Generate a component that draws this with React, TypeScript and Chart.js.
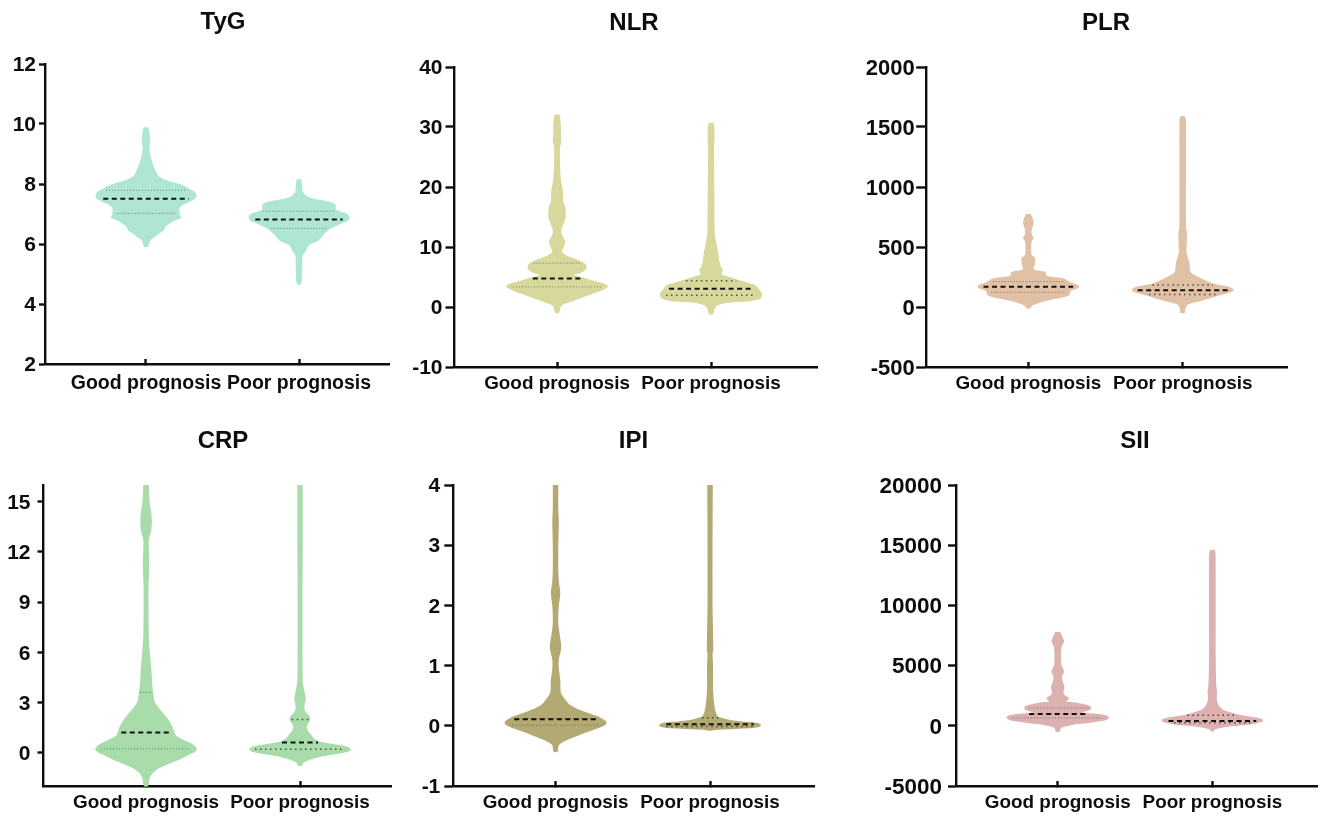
import { useEffect, useRef } from "react";
import { Chart, registerables } from "chart.js";

Chart.register(...registerables);

const groups = ["Good prognosis", "Poor prognosis"];

// violin outlines: value, and full width of the violin relative to the widest one (100)
const tygGoodValues = [9.89, 9.75, 9.4, 9.2, 8.9, 8.58, 8.25, 8.08, 8.0, 7.9, 7.8, 7.72, 7.63, 7.55, 7.47, 7.36, 7.28, 7.2, 7.02, 6.88, 6.82, 6.74, 6.58, 6.45, 6.38, 6.24, 6.13, 5.93];
const tygGoodWidths = [3, 5, 7, 5, 8, 14, 24, 45, 62, 78, 88, 97, 100, 99, 92, 78, 70, 66, 66, 69, 60, 50, 38, 34, 26, 16, 7, 3];
const tygPoorValues = [8.16, 8.02, 7.74, 7.58, 7.48, 7.38, 7.3, 7.13, 7.05, 6.98, 6.88, 6.78, 6.7, 6.52, 6.36, 6.13, 5.97, 5.8, 5.63, 5.24, 4.74, 4.67];
const tygPoorWidths = [3, 4.5, 6, 14, 30, 62, 72, 73, 86, 96, 100, 96, 84, 62, 50, 38, 18, 13, 6, 5, 4, 2];

const nlrGoodValues = [32.1, 31.4, 29.7, 28.9, 27.5, 26.7, 23.4, 21.4, 19.8, 18.7, 17.8, 16.7, 15, 14.2, 12.8, 12, 10.9, 10.1, 9.2, 8.4, 7.85, 7.3, 6.9, 6.3, 5.8, 5.35, 4.8, 4.25, 3.9, 3.5, 3.1, 2.7, 2, 1.2, 0.6, 0.1, -0.9];
const nlrGoodWidths = [3, 5, 6.5, 6, 7, 4.5, 4.5, 6, 9, 11, 10, 15, 16, 13, 7, 8, 15, 12, 8, 20, 38, 52, 57, 56, 46, 30, 52, 72, 90, 100, 95, 84, 60, 35, 14, 6, 3];
const nlrPoorValues = [30.7, 30, 27.8, 27.2, 15.6, 12.3, 10.6, 9, 7.6, 6.7, 6.2, 5.35, 4.8, 4.25, 3.7, 3.4, 2.8, 2.3, 1.8, 1.4, 1.1, 0.8, 0.36, -0.2, -1.1];
const nlrPoorWidths = [3, 5, 5.5, 4.5, 5.5, 6, 9, 13, 15, 18, 22, 20, 40, 60, 82, 90, 95, 100, 100, 96, 78, 30, 12, 6, 3];

const plrGoodValues = [775, 739, 697, 642, 600, 578, 545, 434, 406, 365, 323, 304, 287, 254, 232, 198, 182, 170, 155, 143, 101, 74, 46, 18, -5];
const plrGoodWidths = [3, 7, 9, 5, 5.5, 9, 5, 5, 12, 12, 9, 12, 33, 35, 70, 85, 96, 100, 95, 84, 80, 55, 25, 7, 3];
const plrPoorValues = [1590, 1556, 670, 614, 559, 462, 406, 365, 295, 268, 226, 190, 165, 150, 138, 122, 101, 60, 26, -10, -43];
const plrPoorWidths = [3, 5, 5, 7, 7, 6, 9, 12, 14, 20, 40, 60, 90, 98, 100, 90, 72, 40, 10, 4, 3];

const crpGoodValues = [16, 14.9, 14.3, 13.8, 13.3, 12.7, 11.2, 9.9, 8.5, 7, 6, 5, 4, 3.55, 3, 2.5, 2, 1.5, 1.2, 0.95, 0.7, 0.5, 0.35, 0.22, 0.08, -0.05, -0.3, -0.6, -0.9, -1.2, -1.5, -1.98];
const crpGoodWidths = [4, 6, 9, 10, 9, 4, 5, 3.5, 3.5, 4, 6, 9, 11, 13, 16, 28, 42, 52, 55, 60, 76, 90, 97, 100, 97, 88, 72, 48, 25, 12, 6, 3];
const crpPoorValues = [16, 13, 10, 6, 4.2, 3.7, 3.2, 2.7, 2.4, 2.1, 1.9, 1.6, 1.3, 1, 0.8, 0.6, 0.45, 0.32, 0.2, 0.08, -0.05, -0.2, -0.4, -0.6, -0.75];
const crpPoorWidths = [4, 4, 3.5, 3.5, 4, 7, 10, 7, 10, 19, 18, 12, 14, 22, 27, 40, 70, 92, 100, 94, 72, 42, 18, 5, 3];

const ipiGoodValues = [4, 3.6, 3.4, 3, 2.6, 2.4, 2.2, 2, 1.7, 1.5, 1.3, 1.1, 0.95, 0.75, 0.55, 0.45, 0.35, 0.28, 0.2, 0.15, 0.09, 0.05, 0.01, -0.03, -0.1, -0.18, -0.25, -0.32, -0.42];
const ipiGoodWidths = [4, 4, 5, 4, 4, 5, 8, 5, 4, 7, 10, 5, 5, 8, 9, 16, 26, 40, 65, 82, 96, 100, 96, 84, 60, 36, 16, 5, 3];
const ipiPoorValues = [4, 3, 2, 1.25, 1.2, 1, 0.6, 0.35, 0.22, 0.15, 0.12, 0.085, 0.06, 0.04, 0.015, -0.01, -0.025, -0.04, -0.055, -0.07];
const ipiPoorWidths = [4, 3.5, 3.5, 5, 3.5, 4.5, 4.5, 7, 10, 14, 22, 40, 64, 92, 100, 97, 84, 50, 12, 3];

const siiGoodValues = [7800, 7470, 7030, 6560, 5030, 4750, 4480, 4140, 3700, 3230, 2810, 2540, 2260, 1980, 1840, 1650, 1550, 1430, 1300, 1200, 1070, 880, 790, 660, 540, 430, 300, 180, -100, -430];
const siiGoodWidths = [3, 7, 11, 6, 5.5, 9, 11, 7, 8, 12, 10, 12, 21, 14, 40, 60, 64, 65, 60, 48, 45, 88, 97, 100, 96, 84, 60, 35, 6, 3];
const siiPoorValues = [14600, 14180, 6140, 3640, 3090, 2760, 2260, 1700, 1290, 1010, 730, 590, 460, 340, 180, -10, -240, -400];
const siiPoorWidths = [3, 5, 5, 6, 7, 8, 7, 11, 20, 40, 70, 92, 100, 94, 75, 30, 4, 2];

// median and quartiles, [good, poor]
const tygMedians = [7.51, 6.82];
const tygUpper = [7.79, 7.09];
const tygLower = [7.02, 6.52];
const nlrMedians = [4.75, 3.03];
const nlrUpper = [7.3, 4.36];
const nlrLower = [3.35, 1.97];
const plrMedians = [168, 140];
const plrUpper = [212, 184];
const plrLower = [123, 104];
const crpMedians = [1.2, 0.6];
const crpUpper = [3.6, 1.98];
const crpLower = [0.22, 0.2];
const ipiMedians = [0.11, 0.025];
const ipiUpper = [0.12, 0.135];
const ipiLower = [0.01, -0.01];
const siiMedians = [990, 400];
const siiUpper = [1480, 870];
const siiLower = [650, 260];

// y axis ticks
const tygTicks = [2, 4, 6, 8, 10, 12];
const nlrTicks = [-10, 0, 10, 20, 30, 40];
const plrTicks = [-500, 0, 500, 1000, 1500, 2000];
const crpTicks = [0, 3, 6, 9, 12, 15];
const ipiTicks = [-1, 0, 1, 2, 3, 4];
const siiTicks = [-5000, 0, 5000, 10000, 15000, 20000];

const FONT = "'Liberation Sans', Arial, sans-serif";
const INK = "#0d0d0d";
const WIDTH_UNIT = 0.325 / 100; // x axis units per relative width

// left, width etc are in page pixels, the canvas is centred on the title
const panels = [
  {
    title: "TyG", color: "#aee5d3", left: 0, top: 0, width: 446, height: 400,
    axisX: 45, areaRight: 389, areaTop: 64, areaBottom: 364, xMin: 0.34, xMax: 2.588, labelSize: 19.5, labelGap: 13,
    titleTop: 8, tickSize: 21, tickLen: 6, tickGap: 3, ticks: tygTicks, yMin: 2, yMax: 12, fineDots: true,
    good: [tygGoodValues, tygGoodWidths], poor: [tygPoorValues, tygPoorWidths],
    medians: tygMedians, upper: tygUpper, lower: tygLower,
  },
  {
    title: "NLR", color: "#d7d89b", left: 400, top: 0, width: 468, height: 400,
    axisX: 454.5, areaRight: 817, areaTop: 67, areaBottom: 367, xMin: 0.334, xMax: 2.688, labelSize: 18.9, labelGap: 10,
    titleTop: 9, tickSize: 21, tickLen: 9, tickGap: 3, ticks: nlrTicks, yMin: -10, yMax: 40, fineDots: false,
    good: [nlrGoodValues, nlrGoodWidths], poor: [nlrPoorValues, nlrPoorWidths],
    medians: nlrMedians, upper: nlrUpper, lower: nlrLower,
  },
  {
    title: "PLR", color: "#e1c1a5", left: 860, top: 0, width: 492, height: 400,
    axisX: 925.7, areaRight: 1287, areaTop: 67, areaBottom: 367, xMin: 0.335, xMax: 2.676, labelSize: 18.9, labelGap: 10,
    titleTop: 9, tickSize: 22, tickLen: 9.5, tickGap: 1.5, ticks: plrTicks, yMin: -500, yMax: 2000, fineDots: false,
    good: [plrGoodValues, plrGoodWidths], poor: [plrPoorValues, plrPoorWidths],
    medians: plrMedians, upper: plrUpper, lower: plrLower,
  },
  {
    title: "CRP", color: "#a9dcab", left: 0, top: 418, width: 446, height: 400,
    axisX: 43.5, areaRight: 391, areaTop: 67, areaBottom: 368, xMin: 0.334, xMax: 2.591, labelSize: 18.9, labelGap: 10,
    titleTop: 9, tickSize: 21, tickLen: 6, tickGap: 7, ticks: crpTicks, yMin: -2, yMax: 16, fineDots: false,
    good: [crpGoodValues, crpGoodWidths], poor: [crpPoorValues, crpPoorWidths],
    medians: crpMedians, upper: crpUpper, lower: crpLower,
  },
  {
    title: "IPI", color: "#b3a972", left: 400, top: 418, width: 467, height: 400,
    axisX: 453.3, areaRight: 814.3, areaTop: 67, areaBottom: 368, xMin: 0.338, xMax: 2.675, labelSize: 18.9, labelGap: 10,
    titleTop: 9, tickSize: 21, tickLen: 9, tickGap: 4, ticks: ipiTicks, yMin: -1, yMax: 4, fineDots: false,
    good: [ipiGoodValues, ipiGoodWidths], poor: [ipiPoorValues, ipiPoorWidths],
    medians: ipiMedians, upper: ipiUpper, lower: ipiLower,
  },
  {
    title: "SII", color: "#dcb1af", left: 870, top: 418, width: 530, height: 400,
    axisX: 956, areaRight: 1317.5, areaTop: 67, areaBottom: 368, xMin: 0.342, xMax: 2.68, labelSize: 18.9, labelGap: 10,
    titleTop: 9, tickSize: 22.5, tickLen: 8, tickGap: 6, ticks: siiTicks, yMin: -5000, yMax: 20000, fineDots: false,
    good: [siiGoodValues, siiGoodWidths], poor: [siiPoorValues, siiPoorWidths],
    medians: siiMedians, upper: siiUpper, lower: siiLower,
  },
];

function outline(center: number, values: number[], widths: number[]) {
  const leftSide = values.map((v, i) => ({ x: center - widths[i] * WIDTH_UNIT, y: v }));
  const rightSide = values.map((v, i) => ({ x: center + widths[i] * WIDTH_UNIT, y: v }));
  return [...leftSide, ...rightSide.reverse()];
}

// width of the violin at a value, so the quartile lines stop at its edge
function widthAt(values: number[], widths: number[], q: number) {
  for (let i = 0; i < values.length - 1; i++) {
    if (q <= values[i] && q >= values[i + 1]) {
      const t = (values[i] - q) / (values[i] - values[i + 1]);
      return widths[i] + (widths[i + 1] - widths[i]) * t;
    }
  }
  return 0;
}

function statLine(group: number, violin: number[][], q: number, isMedian: boolean, fineDots: boolean) {
  const center = group + 1;
  const half = widthAt(violin[0], violin[1], q) * WIDTH_UNIT * 0.9;
  const dots = group === 1 && !fineDots ? { width: 1.5, dash: [1.5, 3.5], color: "rgba(50,50,50,0.8)" } : { width: 1, dash: [1, 2], color: "rgba(70,70,70,0.65)" };
  return {
    data: [{ x: center - half, y: q }, { x: center + half, y: q }],
    showLine: true,
    pointRadius: 0,
    fill: false,
    borderColor: isMedian ? "#111111" : dots.color,
    borderWidth: isMedian ? 2 : dots.width,
    borderDash: isMedian ? [5, 3.5] : dots.dash,
  };
}

function violinSet(center: number, violin: number[][], color: string) {
  return {
    data: outline(center, violin[0], violin[1]),
    showLine: true,
    pointRadius: 0,
    tension: 0.25,
    fill: "shape",
    backgroundColor: color,
    borderColor: color,
    borderWidth: 1.5,
    borderJoinStyle: "round",
  };
}

const Panel = ({ p }: { p: (typeof panels)[number] }) => {
  const canvasRef = useRef<HTMLCanvasElement | null>(null);

  useEffect(() => {
    if (!canvasRef.current) return;
    const violins = [p.good, p.poor];
    const lines: any[] = [];
    violins.forEach((v, i) => {
      lines.push(statLine(i, v, p.medians[i], true, p.fineDots));
      lines.push(statLine(i, v, p.upper[i], false, p.fineDots));
      lines.push(statLine(i, v, p.lower[i], false, p.fineDots));
    });
    const chart = new Chart(canvasRef.current, {
      type: "scatter",
      data: {
        datasets: [...lines, ...violins.map((v, i) => violinSet(i + 1, v, p.color))] as any,
      },
      options: {
        responsive: false,
        animation: false,
        clip: false,
        layout: { padding: 0 },
        plugins: {
          legend: { display: false },
          tooltip: { enabled: false },
          title: {
            display: true,
            text: p.title,
            color: INK,
            font: { family: FONT, size: 24, weight: "bold" },
            padding: { top: p.titleTop, bottom: p.areaTop - p.titleTop - 28.8 },
          },
        },
        scales: {
          x: {
            type: "linear",
            min: p.xMin,
            max: p.xMax,
            afterBuildTicks: (scale: any) => {
              scale.ticks = groups.map((_, i) => ({ value: i + 1 }));
            },
            afterFit: (scale: any) => {
              scale.height = p.height - p.areaBottom;
            },
            border: { color: INK, width: 2.4 },
            grid: { drawOnChartArea: false, drawTicks: true, tickLength: -5, tickWidth: 2.4, tickColor: INK },
            ticks: {
              autoSkip: false,
              maxRotation: 0,
              padding: p.labelGap,
              color: INK,
              font: { family: FONT, size: p.labelSize, weight: "bold" },
              callback: (value: any) => groups[Number(value) - 1],
            },
          },
          y: {
            min: p.yMin,
            max: p.yMax,
            afterBuildTicks: (scale: any) => {
              scale.ticks = p.ticks.map((value) => ({ value }));
            },
            afterFit: (scale: any) => {
              scale.width = p.axisX - p.left;
            },
            border: { color: INK, width: 2.4 },
            grid: { drawOnChartArea: false, drawTicks: true, tickLength: p.tickLen, tickWidth: 2.4, tickColor: INK },
            ticks: {
              autoSkip: false,
              padding: p.tickGap,
              labelOffset: 1.5,
              color: INK,
              font: { family: FONT, size: p.tickSize, weight: "bold" },
              callback: (value: any) => String(value),
            },
          },
          // empty axis, keeps the title centred on the whole canvas while the plot stops short of the right edge
          spacer: {
            type: "linear",
            position: "right",
            grid: { display: false },
            border: { display: false },
            ticks: { display: false },
            afterFit: (scale: any) => {
              scale.width = p.left + p.width - p.areaRight;
            },
          },
        },
      },
    });
    return () => chart.destroy();
  }, [p]);

  return (
    <canvas
      ref={canvasRef}
      width={p.width}
      height={p.height}
      style={{ position: "absolute", left: p.left, top: p.top, width: p.width, height: p.height }}
    />
  );
};

const App = () => {
  return (
    <div style={{ position: "absolute", left: 0, top: 0, width: 1325, height: 818, overflow: "hidden", background: "#fff" }}>
      {panels.map((p) => (
        <Panel key={p.title} p={p} />
      ))}
    </div>
  );
};

export default App;
